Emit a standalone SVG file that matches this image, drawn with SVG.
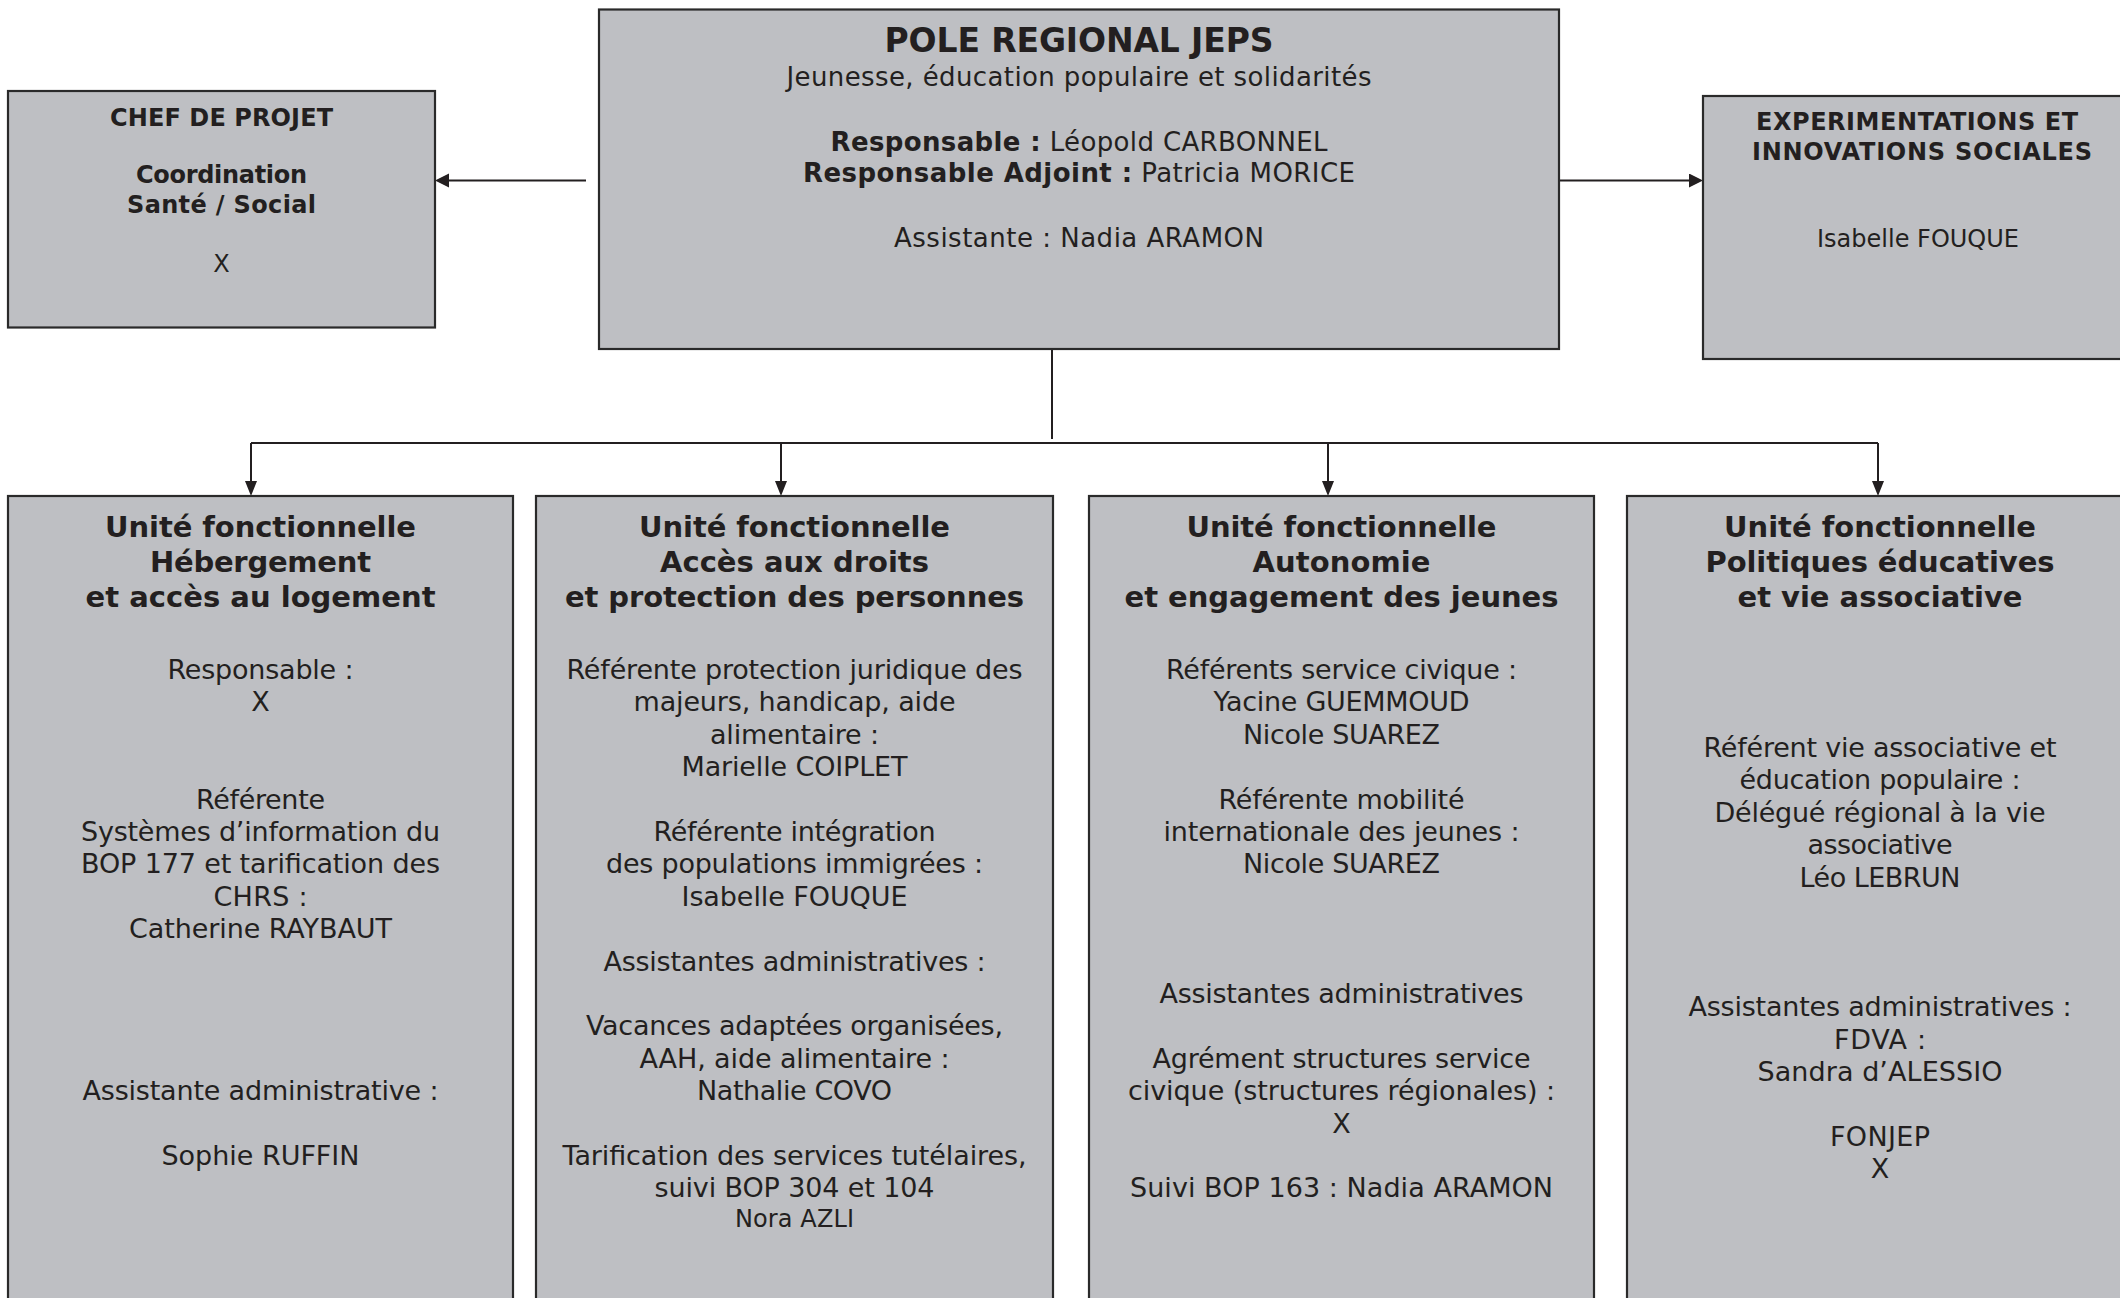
<svg xmlns="http://www.w3.org/2000/svg" width="2120" height="1298" viewBox="0 0 2120 1298">
<style>
.box{fill:#bebfc3;stroke:#2a2a2a;stroke-width:2.2}
.t{font-family:"DejaVu Sans",Verdana,"Liberation Sans",sans-serif;fill:#231f20;text-anchor:middle}
.b{font-weight:bold}
.f24{font-size:24px}
.f26{font-size:26px}
.f33{font-size:33px}
.f29{font-size:29px}
.f27{font-size:27px}
.f24n{font-size:24px}
.ln{fill:none;stroke:#231f20;stroke-width:2}
</style>
<defs>
<marker id="ah" markerUnits="userSpaceOnUse" markerWidth="16" markerHeight="16" refX="8" refY="7" orient="auto"><path d="M0,0 L14,7 L0,14 z" fill="#231f20"/></marker>
<marker id="ahd" markerUnits="userSpaceOnUse" markerWidth="16" markerHeight="14" refX="9" refY="6" orient="auto"><path d="M0,0 L15,6 L0,12 z" fill="#231f20"/></marker>
</defs>
<rect width="2120" height="1298" fill="#ffffff"/>

<g id="connectors">
<line class="ln" x1="586" y1="180.5" x2="441" y2="180.5" marker-end="url(#ah)"/>
<line class="ln" x1="1559" y1="180.5" x2="1697" y2="180.5" marker-end="url(#ah)"/>
<line class="ln" x1="1052" y1="349" x2="1052" y2="439"/>
<line class="ln" x1="251" y1="443" x2="1878" y2="443"/>
<line class="ln" x1="251" y1="443" x2="251" y2="490" marker-end="url(#ahd)"/>
<line class="ln" x1="781" y1="443" x2="781" y2="490" marker-end="url(#ahd)"/>
<line class="ln" x1="1328" y1="443" x2="1328" y2="490" marker-end="url(#ahd)"/>
<line class="ln" x1="1878" y1="443" x2="1878" y2="490" marker-end="url(#ahd)"/>
</g>

<g id="chef-de-projet">
<rect class="box" x="8" y="91" width="427" height="236.5"/>
<text class="t b f24" x="221.5" y="126" textLength="223">CHEF DE PROJET</text>
<text class="t b f24" x="221.5" y="183" textLength="171">Coordination</text>
<text class="t b f24" x="221.5" y="213" textLength="189">Santé / Social</text>
<text class="t f24" x="221.5" y="272">X</text>
</g>

<g id="pole-regional">
<rect class="box" x="599" y="9.5" width="960" height="339.5"/>
<text class="t b f33" x="1079" y="52" textLength="389">POLE REGIONAL JEPS</text>
<text class="t f26" x="1079" y="86" textLength="585">Jeunesse, éducation populaire et solidarités</text>
<text class="t f26" x="1079" y="151" textLength="497"><tspan class="b">Responsable :</tspan> Léopold CARBONNEL</text>
<text class="t f26" x="1079" y="182" textLength="552"><tspan class="b">Responsable Adjoint :</tspan> Patricia MORICE</text>
<text class="t f26" x="1079" y="247" textLength="370">Assistante : Nadia ARAMON</text>
</g>

<g id="experimentations">
<rect class="box" x="1703" y="96" width="440" height="263"/>
<text class="t b f24" x="1917" y="130" textLength="322">EXPERIMENTATIONS ET</text>
<text class="t b f24" x="1922" y="160" textLength="340">INNOVATIONS SOCIALES</text>
<text class="t f24" x="1918" y="247" textLength="202">Isabelle FOUQUE</text>
</g>

<g id="uf-hebergement">
<rect class="box" x="8" y="496" width="505" height="820"/>
<text class="t b f29" x="260.5" y="537" textLength="311">Unité fonctionnelle</text>
<text class="t b f29" x="260.5" y="572" textLength="221">Hébergement</text>
<text class="t b f29" x="260.5" y="607" textLength="350">et accès au logement</text>
<text class="t f27" x="260.5" y="679" textLength="186">Responsable :</text>
<text class="t f27" x="260.5" y="711">X</text>
<text class="t f27" x="260.5" y="809" textLength="129">Référente</text>
<text class="t f27" x="260.5" y="841" textLength="359">Systèmes d’information du</text>
<text class="t f27" x="260.5" y="873" textLength="359">BOP 177 et tarification des</text>
<text class="t f27" x="260.5" y="906" textLength="94">CHRS :</text>
<text class="t f27" x="260.5" y="938" textLength="263">Catherine RAYBAUT</text>
<text class="t f27" x="260.5" y="1100" textLength="356">Assistante administrative :</text>
<text class="t f27" x="260.5" y="1165" textLength="198">Sophie RUFFIN</text>
</g>

<g id="uf-acces-droits">
<rect class="box" x="536" y="496" width="517" height="820"/>
<text class="t b f29" x="794.5" y="537" textLength="311">Unité fonctionnelle</text>
<text class="t b f29" x="794.5" y="572" textLength="269">Accès aux droits</text>
<text class="t b f29" x="794.5" y="607" textLength="459">et protection des personnes</text>
<text class="t f27" x="794.5" y="679" textLength="456">Référente protection juridique des</text>
<text class="t f27" x="794.5" y="711" textLength="322">majeurs, handicap, aide</text>
<text class="t f27" x="794.5" y="744" textLength="169">alimentaire :</text>
<text class="t f27" x="794.5" y="776" textLength="226">Marielle COIPLET</text>
<text class="t f27" x="794.5" y="841" textLength="282">Référente intégration</text>
<text class="t f27" x="794.5" y="873" textLength="377">des populations immigrées :</text>
<text class="t f27" x="794.5" y="906" textLength="226">Isabelle FOUQUE</text>
<text class="t f27" x="794.5" y="971" textLength="382">Assistantes administratives :</text>
<text class="t f27" x="794.5" y="1035" textLength="417">Vacances adaptées organisées,</text>
<text class="t f27" x="794.5" y="1068" textLength="310">AAH, aide alimentaire :</text>
<text class="t f27" x="794.5" y="1100" textLength="195">Nathalie COVO</text>
<text class="t f27" x="794.5" y="1165" textLength="464">Tarification des services tutélaires,</text>
<text class="t f27" x="794.5" y="1197" textLength="280">suivi BOP 304 et 104</text>
<text class="t f24n" x="794.5" y="1227" textLength="119">Nora AZLI</text>
</g>

<g id="uf-autonomie">
<rect class="box" x="1089" y="496" width="505" height="820"/>
<text class="t b f29" x="1341.5" y="537" textLength="310">Unité fonctionnelle</text>
<text class="t b f29" x="1341.5" y="572" textLength="178">Autonomie</text>
<text class="t b f29" x="1341.5" y="607" textLength="434">et engagement des jeunes</text>
<text class="t f27" x="1341.5" y="679" textLength="351">Référents service civique :</text>
<text class="t f27" x="1341.5" y="711" textLength="256">Yacine GUEMMOUD</text>
<text class="t f27" x="1341.5" y="744" textLength="197">Nicole SUAREZ</text>
<text class="t f27" x="1341.5" y="809" textLength="246">Référente mobilité</text>
<text class="t f27" x="1341.5" y="841" textLength="356">internationale des jeunes :</text>
<text class="t f27" x="1341.5" y="873" textLength="197">Nicole SUAREZ</text>
<text class="t f27" x="1341.5" y="1003" textLength="364">Assistantes administratives</text>
<text class="t f27" x="1341.5" y="1068" textLength="378">Agrément structures service</text>
<text class="t f27" x="1341.5" y="1100" textLength="427">civique (structures régionales) :</text>
<text class="t f27" x="1341.5" y="1133">X</text>
<text class="t f27" x="1341.5" y="1197" textLength="423">Suivi BOP 163 : Nadia ARAMON</text>
</g>

<g id="uf-politiques-educatives">
<rect class="box" x="1627" y="496" width="520" height="820"/>
<text class="t b f29" x="1880" y="537" textLength="312">Unité fonctionnelle</text>
<text class="t b f29" x="1880" y="572" textLength="349">Politiques éducatives</text>
<text class="t b f29" x="1880" y="607" textLength="285">et vie associative</text>
<text class="t f27" x="1880" y="757" textLength="353">Référent vie associative et</text>
<text class="t f27" x="1880" y="789" textLength="281">éducation populaire :</text>
<text class="t f27" x="1880" y="822" textLength="331">Délégué régional à la vie</text>
<text class="t f27" x="1880" y="854" textLength="145">associative</text>
<text class="t f27" x="1880" y="887" textLength="161">Léo LEBRUN</text>
<text class="t f27" x="1880" y="1016" textLength="383">Assistantes administratives :</text>
<text class="t f27" x="1880" y="1049" textLength="92">FDVA :</text>
<text class="t f27" x="1880" y="1081" textLength="245">Sandra d’ALESSIO</text>
<text class="t f27" x="1880" y="1146" textLength="100">FONJEP</text>
<text class="t f27" x="1880" y="1178">X</text>
</g>
</svg>
